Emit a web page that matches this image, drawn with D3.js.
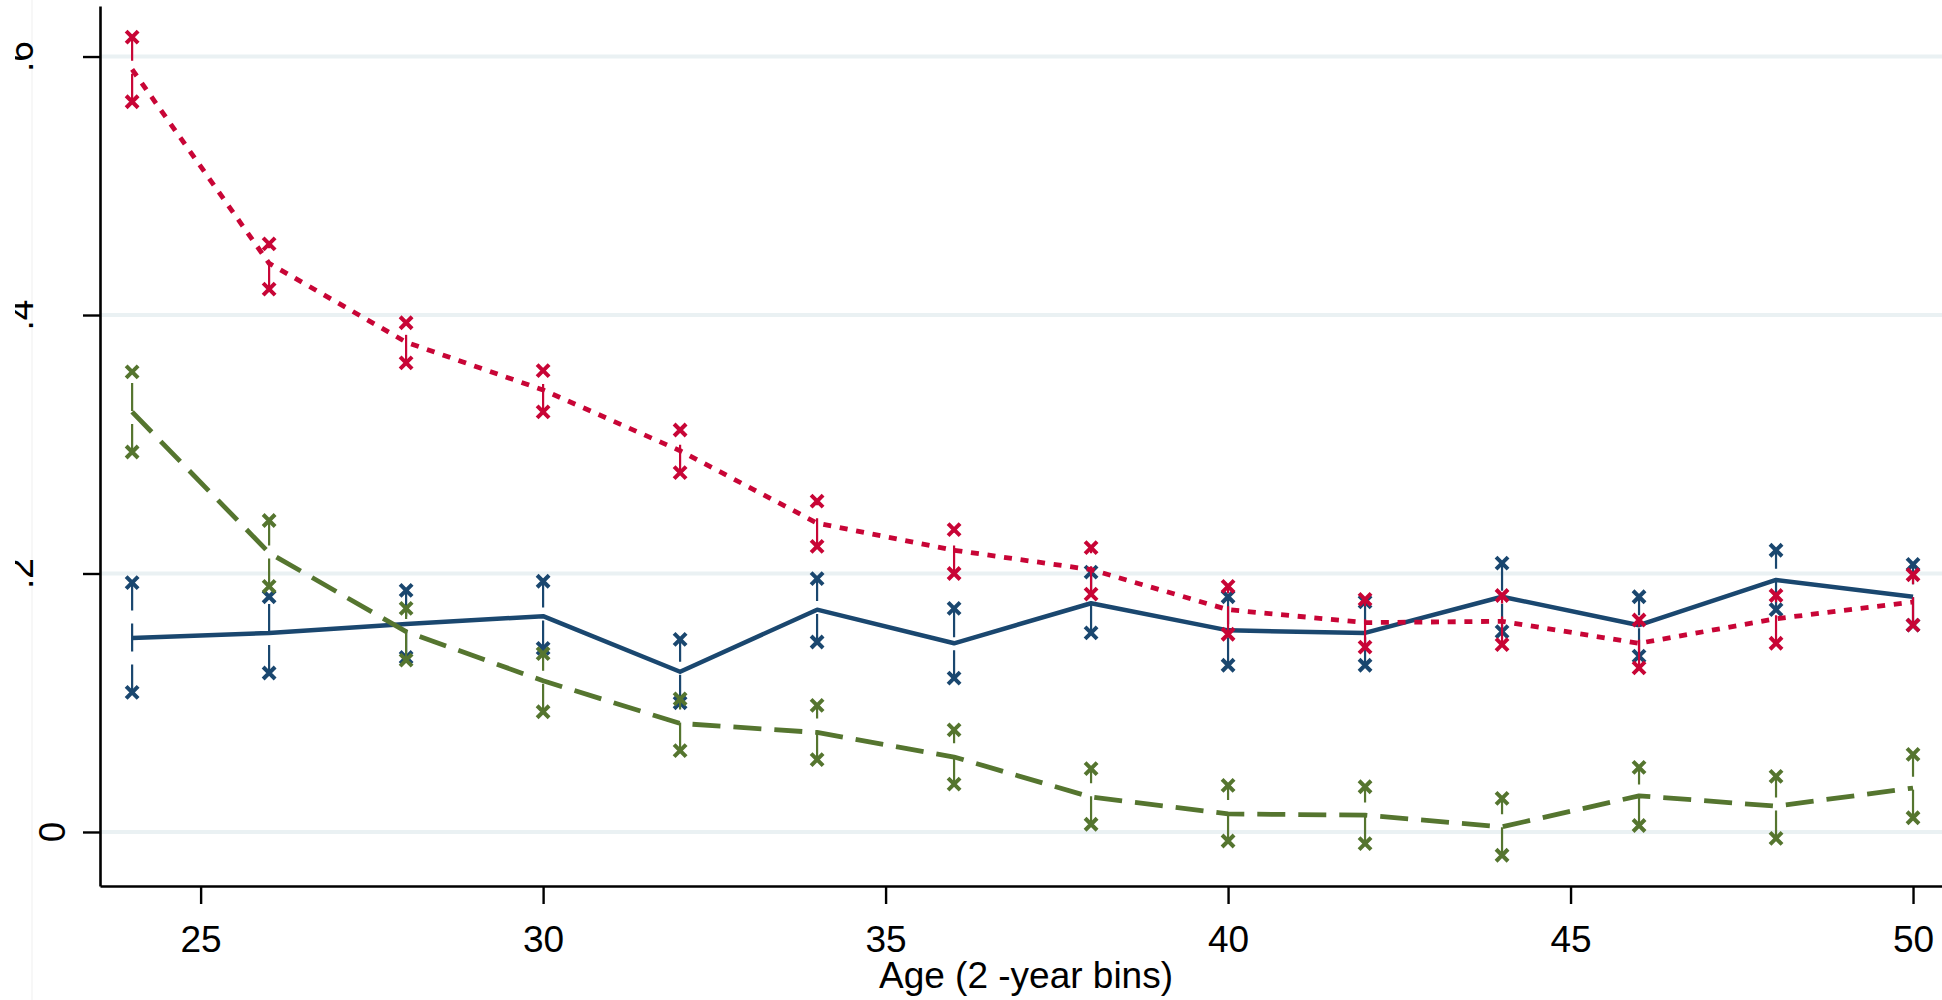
<!DOCTYPE html>
<html>
<head>
<meta charset="utf-8">
<script src="https://cdnjs.cloudflare.com/ajax/libs/d3/7.8.5/d3.min.js"></script>
<style>
  body { margin: 0; background: #fff; }
  text { font-family: "Liberation Sans", Arial, sans-serif; fill: #000; }
</style>
</head>
<body>
<div id="chart"></div>
<script>
const ages = [24, 26, 28, 30, 32, 34, 36, 38, 40, 42, 44, 46, 48, 50];

const blueEst = [0.150, 0.154, 0.161, 0.167, 0.124, 0.172, 0.146, 0.177, 0.156, 0.154, 0.182, 0.160, 0.195, 0.182];
const blueHi  = [0.193, 0.182, 0.187, 0.194, 0.149, 0.196, 0.173, 0.201, 0.182, 0.178, 0.208, 0.182, 0.218, 0.207];
const blueLo  = [0.108, 0.123, 0.135, 0.142, 0.100, 0.147, 0.119, 0.154, 0.129, 0.129, 0.155, 0.136, 0.172, 0.160];

const greenEst = [0.325, 0.216, 0.155, 0.117, 0.084, 0.077, 0.058, 0.027, 0.014, 0.013, 0.004, 0.028, 0.020, 0.034];
const greenHi  = [0.356, 0.241, 0.173, 0.138, 0.103, 0.098, 0.079, 0.049, 0.036, 0.035, 0.026, 0.050, 0.043, 0.060];
const greenLo  = [0.294, 0.190, 0.133, 0.093, 0.063, 0.056, 0.037, 0.006, -0.007, -0.009, -0.018, 0.005, -0.005, 0.011];

const redEst = [0.590, 0.440, 0.379, 0.342, 0.295, 0.239, 0.218, 0.203, 0.172, 0.162, 0.163, 0.146, 0.165, 0.178];
const redHi  = [0.615, 0.455, 0.394, 0.357, 0.311, 0.256, 0.234, 0.220, 0.190, 0.180, 0.183, 0.164, 0.183, 0.199];
const redLo  = [0.565, 0.420, 0.363, 0.325, 0.278, 0.221, 0.200, 0.184, 0.153, 0.143, 0.145, 0.127, 0.146, 0.160];

const xTicks = [25, 30, 35, 40, 45, 50];
const yTicks = [0, 0.2, 0.4, 0.6];
const yTickLabels = ["0", ".2", ".4", ".6"];
const xTitle = "Age (2 -year bins)";

const w = 1942;
const h = 1000;

const xScale = d3.scaleLinear()
  .domain([23.531, 50.423])
  .range([100, 1942]);
const yScale = d3.scaleLinear()
  .domain([-0.0418, 0.6391])
  .range([886, 6]);

const svg = d3.select("#chart")
  .append("svg")
  .attr("width", w)
  .attr("height", h);

svg.append("rect").attr("width", w).attr("height", h).attr("fill", "#fff");

// faint outer frame line on the left
svg.append("line")
  .attr("x1", 32).attr("x2", 32)
  .attr("y1", 0).attr("y2", h)
  .attr("stroke", "#efefef")
  .attr("stroke-width", 1);

// grid
svg.append("g")
  .selectAll("line")
  .data(yTicks)
  .enter()
  .append("line")
  .attr("x1", 100)
  .attr("x2", w)
  .attr("y1", d => yScale(d))
  .attr("y2", d => yScale(d))
  .attr("stroke", "#eaf1f3")
  .attr("stroke-width", 4);

// axes
const yAxis = d3.axisLeft(yScale)
  .tickValues(yTicks)
  .tickSize(17)
  .tickSizeOuter(0)
  .tickFormat("");
const gy = svg.append("g")
  .attr("transform", "translate(100,0)")
  .call(yAxis);

const xAxis = d3.axisBottom(xScale)
  .tickValues(xTicks)
  .tickSize(18)
  .tickSizeOuter(0);
const gx = svg.append("g")
  .attr("transform", "translate(0,886)")
  .call(xAxis);

[gx, gy].forEach(g => {
  g.select(".domain").attr("stroke", "#000").attr("stroke-width", 2.6);
  g.selectAll(".tick line").attr("stroke", "#000").attr("stroke-width", 2.4);
});
gx.selectAll(".tick text")
  .attr("y", 66)
  .attr("dy", null)
  .style("font-size", "37px")
  .style("font-family", '"Liberation Sans", Arial, sans-serif')
  .attr("fill", "#000");

// rotated y labels
svg.append("defs").append("clipPath")
  .attr("id", "ylabclip")
  .append("rect")
  .attr("x", 15).attr("y", 0)
  .attr("width", 85).attr("height", h);

svg.append("g")
  .attr("clip-path", "url(#ylabclip)")
  .selectAll("text")
  .data(yTicks)
  .enter()
  .append("text")
  .attr("transform", (d, i) => "translate(" + (i === 0 ? 65 : 33) + "," + yScale(d) + ") rotate(-90)")
  .attr("text-anchor", "middle")
  .style("font-size", "37px")
  .text((d, i) => yTickLabels[i]);

svg.append("text")
  .attr("x", 1026)
  .attr("y", 988)
  .attr("text-anchor", "middle")
  .style("font-size", "37px")
  .text(xTitle);

// series
const series = [
  {est: blueEst, hi: blueHi, lo: blueLo, color: "#1a476f", dash: null, width: 4.5},
  {est: greenEst, hi: greenHi, lo: greenLo, color: "#55752f", dash: "28,13", width: 4.8},
  {est: redEst, hi: redHi, lo: redLo, color: "#c80536", dash: "8,8.7", width: 4.8}
];

const line = d3.line()
  .x(d => xScale(d.age))
  .y(d => yScale(d.v));

const xMark = "M-6,-6L6,6M-6,6L6,-6";

series.forEach(s => {
  const rows = ages.map((a, i) => ({age: a, v: s.est[i], hi: s.hi[i], lo: s.lo[i]}));
  const g = svg.append("g");

  g.selectAll(".spike")
    .data(rows)
    .enter()
    .append("line")
    .attr("class", "spike")
    .attr("x1", d => xScale(d.age))
    .attr("x2", d => xScale(d.age))
    .attr("y1", d => yScale(d.lo))
    .attr("y2", d => yScale(d.hi))
    .attr("stroke", s.color)
    .attr("stroke-width", 2.2)
    .attr("stroke-dasharray", "28,13");

  g.append("path")
    .datum(rows)
    .attr("d", line)
    .attr("fill", "none")
    .attr("stroke", s.color)
    .attr("stroke-width", s.width)
    .attr("stroke-dasharray", s.dash)
    .attr("stroke-linejoin", "round");

  const ends = [];
  rows.forEach(d => { ends.push({age: d.age, v: d.hi}); ends.push({age: d.age, v: d.lo}); });
  g.selectAll(".mk")
    .data(ends)
    .enter()
    .append("path")
    .attr("class", "mk")
    .attr("d", xMark)
    .attr("transform", d => "translate(" + xScale(d.age) + "," + yScale(d.v) + ")")
    .attr("fill", "none")
    .attr("stroke", s.color)
    .attr("stroke-width", 4);
});
</script>
</body>
</html>
